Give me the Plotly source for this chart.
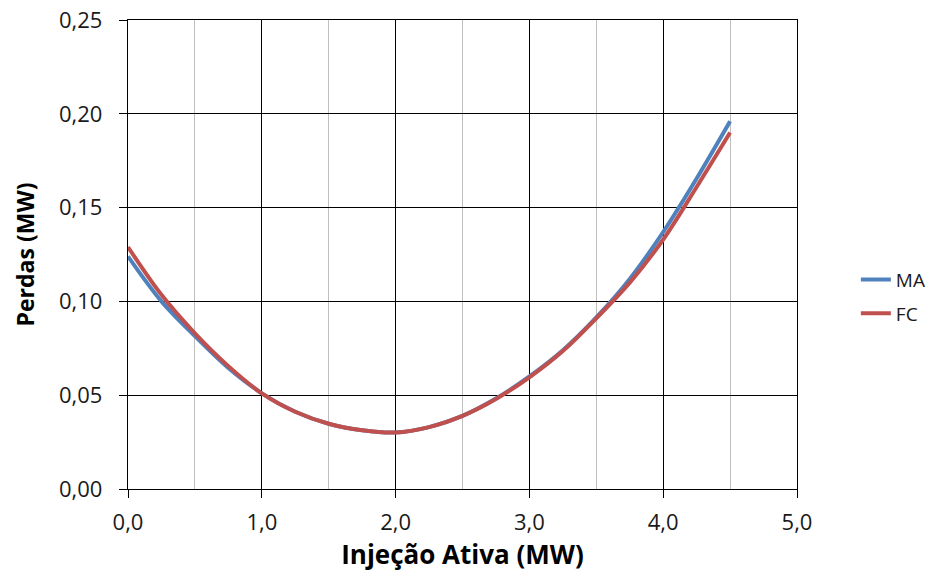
import plotly.graph_objects as go

injecao = [0, 0.25, 0.5, 0.75, 1.0, 1.25, 1.5, 1.75, 2.0, 2.25, 2.5, 2.75, 3.0, 3.25, 3.5, 3.75, 4.0, 4.25, 4.5]
perdas_ma = [0.124, 0.100, 0.0815, 0.0645, 0.051, 0.0412, 0.0348, 0.0313, 0.0301, 0.0330, 0.0390, 0.0482, 0.060, 0.074, 0.0915, 0.112, 0.137, 0.1655, 0.196]
perdas_fc = [0.129, 0.1035, 0.083, 0.0655, 0.051, 0.0412, 0.0348, 0.0313, 0.0301, 0.0330, 0.0390, 0.0480, 0.0595, 0.0735, 0.091, 0.110, 0.133, 0.161, 0.190]

FONT = "Open Sans"

fig = go.Figure()
fig.add_trace(go.Scatter(x=injecao, y=perdas_ma, name="MA", mode="lines", legendgroup="ma",
                         line=dict(color="#4F81BD", width=4, shape="spline", smoothing=1.0)))
fig.add_trace(go.Scatter(x=injecao, y=perdas_fc, name="FC", mode="lines", legendgroup="fc",
                         line=dict(color="#C0504D", width=4, shape="spline", smoothing=1.0)))

fig.update_layout(
    width=934, height=572,
    margin=dict(l=128, r=137, t=20, b=83, autoexpand=False),
    paper_bgcolor="white", plot_bgcolor="white",
    separators=", ",
    font=dict(family=FONT, size=22, color="#1a1a1a"),
    showlegend=True,
    legend=dict(x=1.088, y=0.41, xanchor="left", yanchor="middle",
                font=dict(family=FONT, size=19, color="#1a1a1a"),
                bgcolor="rgba(0,0,0,0)", traceorder="grouped", tracegroupgap=6),
)
fig.update_xaxes(
    range=[0, 5], dtick=1, tick0=0, tickformat=".1f",
    showgrid=True, gridcolor="#000000", gridwidth=1.3,
    minor=dict(dtick=0.5, showgrid=True, gridcolor="#BFBFBF", gridwidth=1.3),
    showline=True, linecolor="#000000", linewidth=1.3, mirror=True,
    ticks="outside", ticklen=8, tickcolor="#000000", tickwidth=1.3,
    ticklabelstandoff=5,
    zeroline=False, automargin=False,
    title=dict(text="<b>Injeção Ativa (MW)</b>", font=dict(family=FONT, size=26, color="#000000"), standoff=14),
)
fig.update_yaxes(
    range=[0, 0.25], dtick=0.05, tick0=0, tickformat=".2f",
    showgrid=True, gridcolor="#000000", gridwidth=1.3,
    showline=True, linecolor="#000000", linewidth=1.3, mirror=True,
    ticks="outside", ticklen=8, tickcolor="#000000", tickwidth=1.3,
    ticklabelstandoff=12,
    zeroline=False, automargin=False,
    title=dict(text="<b>Perdas (MW)</b>", font=dict(family=FONT, size=23, color="#000000"), standoff=17),
)

fig.write_html("out.html", config={"displayModeBar": False},
               post_script="document.body.style.margin='0';")
